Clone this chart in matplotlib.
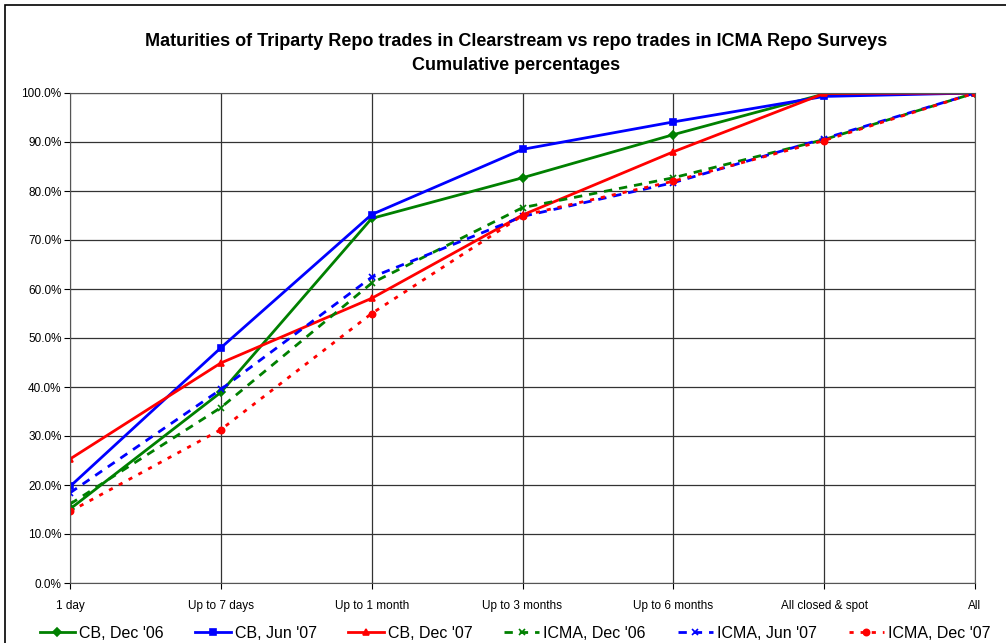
import matplotlib.pyplot as plt
from matplotlib.patches import Rectangle
from matplotlib.ticker import FuncFormatter

plt.rcParams['font.family'] = ['Liberation Sans', 'DejaVu Sans']

# Categorias de prazo
categorias = ["1 day", "Up to 7 days", "Up to 1 month", "Up to 3 months",
              "Up to 6 months", "All closed & spot", "All"]

# Percentuais acumulados
cb_dez06 = [15.1, 38.9, 74.4, 82.7, 91.5, 99.8, 100.0]
cb_jun07 = [19.7, 48.0, 75.2, 88.5, 94.1, 99.3, 100.0]
cb_dez07 = [25.3, 44.9, 58.1, 75.1, 88.0, 99.9, 100.0]
icma_dez06 = [16.1, 35.8, 61.2, 76.6, 82.7, 90.5, 100.0]
icma_jun07 = [18.4, 39.5, 62.4, 74.8, 81.7, 90.7, 100.0]
icma_dez07 = [14.6, 31.3, 55.0, 75.0, 82.0, 90.3, 100.0]

series = [
    ("CB, Dec '06", cb_dez06, "#008000", "-", "D"),
    ("CB, Jun '07", cb_jun07, "#0000FF", "-", "s"),
    ("CB, Dec '07", cb_dez07, "#FF0000", "-", "^"),
    ("ICMA, Dec '06", icma_dez06, "#008000", (0, (3, 2.5)), "x"),
    ("ICMA, Jun '07", icma_jun07, "#0000FF", (0, (3, 2.5)), "x"),
    ("ICMA, Dec '07", icma_dez07, "#FF0000", (0, (1.5, 2.5)), "o"),
]

fig = plt.figure(figsize=(10.06, 6.43), dpi=100)
ax = fig.add_axes([70 / 1006, 1 - 583 / 643, 905 / 1006, 490 / 643])

x = range(len(categorias))
for nome, vals, cor, estilo, marc in series:
    ax.plot(x, vals, color=cor, linestyle=estilo, linewidth=2, marker=marc,
            markersize=4.5, markeredgewidth=1.2, label=nome)

ax.set_xlim(0, len(categorias) - 1)
ax.set_ylim(0, 100)
ax.set_xticks(list(x))
ax.set_xticklabels(categorias, fontsize=8.5)
ax.set_yticks(range(0, 101, 10))
ax.yaxis.set_major_formatter(FuncFormatter(lambda v, p: f"{v:.1f}%"))
ax.tick_params(axis='y', labelsize=8.5, length=4, pad=2)
ax.tick_params(axis='x', length=4, pad=8)
ax.grid(True, color="#333333", linewidth=0.9)
ax.set_axisbelow(True)
for s in ax.spines.values():
    s.set_color("#555555")

fig.text(516 / 1006, 1 - 42 / 643, "Maturities of Triparty Repo trades in Clearstream vs repo trades in ICMA Repo Surveys",
         ha="center", va="center", fontsize=13, fontweight="bold")
fig.text(516 / 1006, 1 - 65 / 643, "Cumulative percentages",
         ha="center", va="center", fontsize=13, fontweight="bold")

leg = ax.legend(loc="center", bbox_to_anchor=(515 / 1006, 1 - 633 / 643), bbox_transform=fig.transFigure,
                ncol=6, frameon=False, fontsize=11.5, handlelength=2.2,
                columnspacing=2.0, handletextpad=0.25)

# Moldura externa
fig.patches.append(Rectangle((5 / 1006, -0.1), 1.5, 1 - 5 / 643 + 0.1,
                             transform=fig.transFigure, fill=False,
                             edgecolor="black", linewidth=1.2))

fig.savefig("out.png", dpi=100)
